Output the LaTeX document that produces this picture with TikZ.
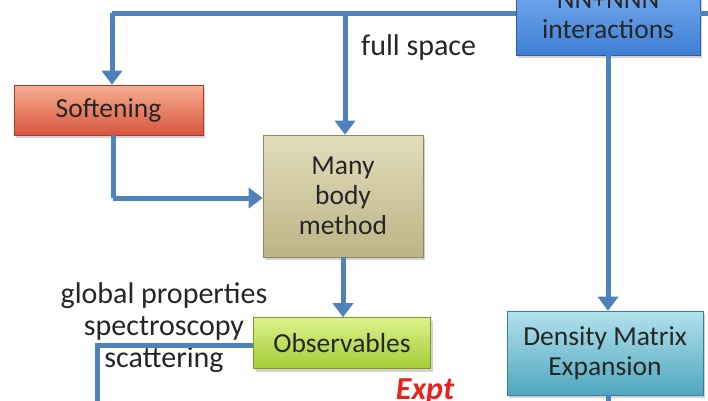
\documentclass[tikz,border=0pt]{standalone}
\usepackage{fontspec}
\setmainfont{Carlito}
\usetikzlibrary{arrows.meta,shadows,calc}
\definecolor{lineblue}{HTML}{4F81BD}
\definecolor{txt}{HTML}{262626}
\definecolor{nntop}{HTML}{7FB2F2}\definecolor{nnbot}{HTML}{3E7FD6}\definecolor{nnbd}{HTML}{2F5F9F}
\definecolor{sftop}{HTML}{F6AE92}\definecolor{sfbot}{HTML}{D8553C}\definecolor{sfbd}{HTML}{A83C28}
\definecolor{mbtop}{HTML}{E3DDBB}\definecolor{mbbot}{HTML}{BDB386}\definecolor{mbbd}{HTML}{8E865E}
\definecolor{obtop}{HTML}{DDF28C}\definecolor{obbot}{HTML}{A2CC36}\definecolor{obbd}{HTML}{7A9C22}
\definecolor{dmtop}{HTML}{B2E2EC}\definecolor{dmbot}{HTML}{4FA6BE}\definecolor{dmbd}{HTML}{357F94}
\definecolor{exred}{HTML}{E8231E}
\tikzset{
  box/.style={draw=#1, line width=0.6pt, align=center, text=txt,
    font=\fontsize{27.5}{30}\selectfont, inner sep=2pt,
    drop shadow={opacity=0.35, shadow xshift=2pt, shadow yshift=-3pt}},
  conn/.style={draw=lineblue, line width=5pt},
  arr/.style={conn, -{Triangle[width=20pt,length=14pt]}},
  lbl/.style={text=txt, font=\fontsize{30}{32}\selectfont, align=center, inner sep=0pt},
}
\begin{document}
\begin{tikzpicture}[x=1pt,y=-1pt]
\useasboundingbox (0,0) rectangle (708,400);
\fill[white] (0,0) rectangle (708,400);
% nodes
\node[box=nnbd, top color=nntop, bottom color=nnbot, minimum width=184pt, minimum height=80pt] (nn) at (608,15) {NN+NNN\\interactions};
\node[box=sfbd, top color=sftop, bottom color=sfbot, minimum width=189pt, minimum height=50pt] (soft) at (108.5,110) {Softening};
\node[box=mbbd, top color=mbtop, bottom color=mbbot, minimum width=160pt, minimum height=122pt] (many) at (343,196) {Many\\body\\method};
\node[box=obbd, top color=obtop, bottom color=obbot, minimum width=177pt, minimum height=51pt] (obs) at (342,343) {Observables};
\node[box=dmbd, top color=dmtop, bottom color=dmbot, minimum width=196pt, minimum height=84pt] (dm) at (605,353) {Density Matrix\\Expansion};
% labels
\node[lbl, anchor=west] (fs) at (361,47) {full space};
\node[lbl] (gp) at (164,328) {global properties\\spectroscopy\\scattering};
\node[anchor=base, inner sep=0pt, text=exred, font=\fontsize{32}{36}\selectfont\bfseries\itshape] (ex) at (425,399) {Expt};
% coordinates
\coordinate (tl) at (112,13);
\coordinate (tj) at (345,13);
\coordinate (tr) at (708,13);
\coordinate (sb) at (113,198);
\coordinate (ob) at (97,345);
\coordinate (oe) at (97,402);
\coordinate (de) at (608,402);
% connectors
\draw[conn] (nn.west |- tl) -- (tl);
\draw[conn] (nn.east |- tr) -- (tr);
\draw[arr] (tl) -- (soft.north -| tl);
\draw[arr] (tj) -- (many.north -| tj);
\draw[conn] (soft.south -| sb) -- (sb);
\draw[arr] (sb) -- (many.west |- sb);
\draw[arr] (many.south) -- (obs.north -| many.south);
\draw[arr] (nn.south -| de) -- (dm.north -| de);
\draw[conn] (obs.west |- ob) -- (ob) -- (oe);
\draw[conn] (dm.south -| de) -- (de);
\end{tikzpicture}
\end{document}
